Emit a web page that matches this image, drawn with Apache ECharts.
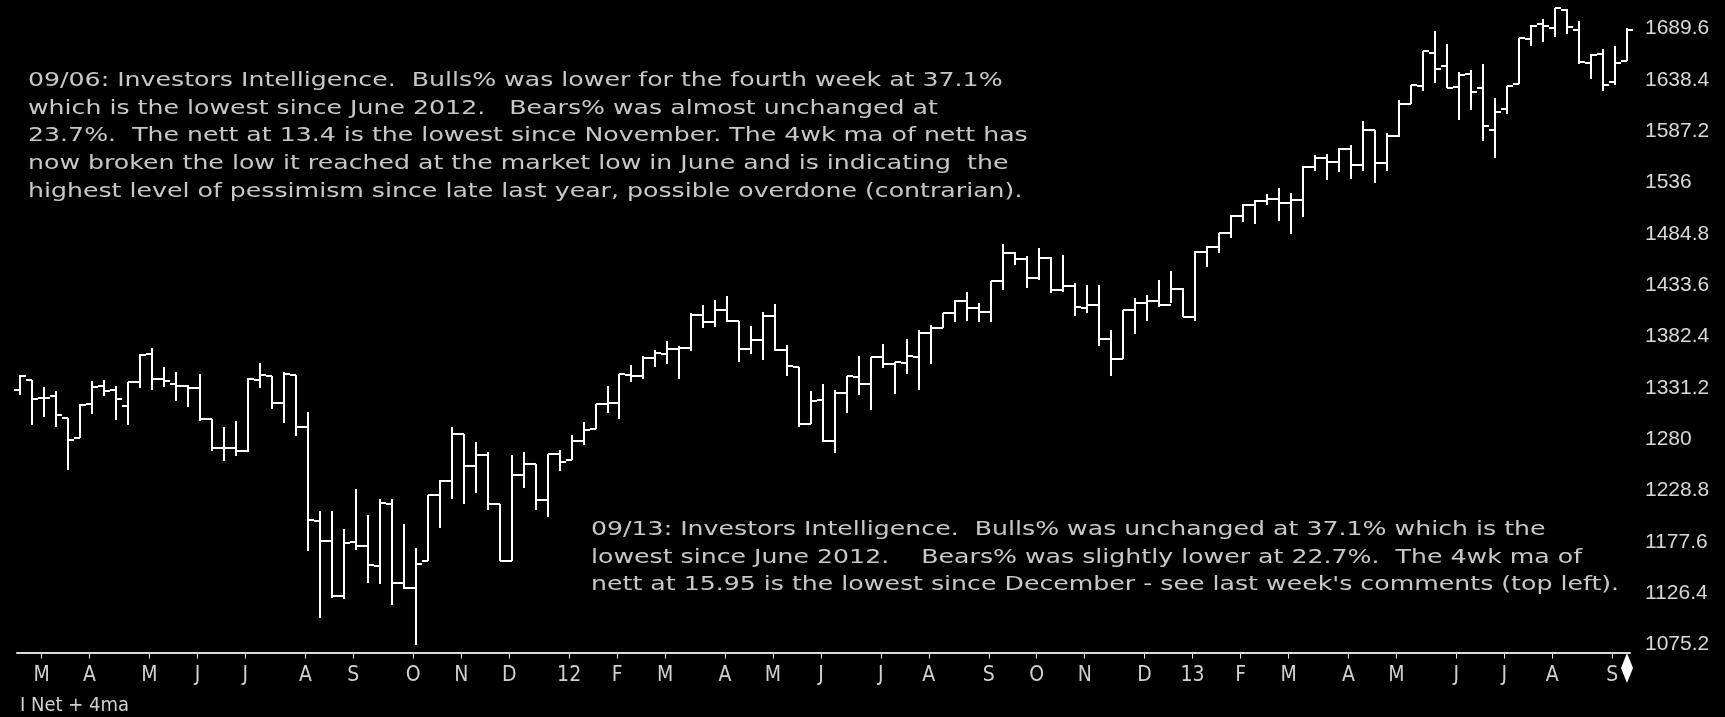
<!DOCTYPE html>
<html>
<head>
<meta charset="utf-8">
<script src="https://cdn.jsdelivr.net/npm/echarts@6/dist/echarts.min.js"></script>
<style>
html,body{margin:0;padding:0;background:#000;}
#c{width:1725px;height:717px;}
</style>
</head>
<body>
<div id="c"></div>
<script>
// Week-ending dates (weekly S&P 500 bars)
const dates = [
'2011-02-18','2011-02-25','2011-03-04','2011-03-11','2011-03-18','2011-03-25','2011-04-01','2011-04-08','2011-04-15','2011-04-21',
'2011-04-29','2011-05-06','2011-05-13','2011-05-20','2011-05-27','2011-06-03','2011-06-10','2011-06-17','2011-06-24','2011-07-01',
'2011-07-08','2011-07-15','2011-07-22','2011-07-29','2011-08-05','2011-08-12','2011-08-19','2011-08-26','2011-09-02','2011-09-09',
'2011-09-16','2011-09-23','2011-09-30','2011-10-07','2011-10-14','2011-10-21','2011-10-28','2011-11-04','2011-11-11','2011-11-18',
'2011-11-25','2011-12-02','2011-12-09','2011-12-16','2011-12-23','2011-12-30','2012-01-06','2012-01-13','2012-01-20','2012-01-27',
'2012-02-03','2012-02-10','2012-02-17','2012-02-24','2012-03-02','2012-03-09','2012-03-16','2012-03-23','2012-03-30','2012-04-06',
'2012-04-13','2012-04-20','2012-04-27','2012-05-04','2012-05-11','2012-05-18','2012-05-25','2012-06-01','2012-06-08','2012-06-15',
'2012-06-22','2012-06-29','2012-07-06','2012-07-13','2012-07-20','2012-07-27','2012-08-03','2012-08-10','2012-08-17','2012-08-24',
'2012-08-31','2012-09-07','2012-09-14','2012-09-21','2012-09-28','2012-10-05','2012-10-12','2012-10-19','2012-10-26','2012-11-02',
'2012-11-09','2012-11-16','2012-11-23','2012-11-30','2012-12-07','2012-12-14','2012-12-21','2012-12-28','2013-01-04','2013-01-11',
'2013-01-18','2013-01-25','2013-02-01','2013-02-08','2013-02-15','2013-02-22','2013-03-01','2013-03-08','2013-03-15','2013-03-22',
'2013-03-28','2013-04-05','2013-04-12','2013-04-19','2013-04-26','2013-05-03','2013-05-10','2013-05-17','2013-05-24','2013-05-31',
'2013-06-07','2013-06-14','2013-06-21','2013-06-28','2013-07-05','2013-07-12','2013-07-19','2013-07-26','2013-08-02','2013-08-09',
'2013-08-16','2013-08-23','2013-08-30','2013-09-06','2013-09-13'
];
const opens = [
1328.7,1338.9,1321.6,1322.7,1301.2,1281.7,1315.5,1333.6,1329.0,1313.4,
1337.1,1365.2,1340.2,1334.8,1333.1,1331.1,1300.3,1271.3,1271.5,1268.4,
1339.6,1343.3,1315.9,1344.3,1292.6,1198.5,1178.9,1123.6,1177.9,1174.0,
1153.5,1215.0,1136.9,1131.2,1158.2,1224.5,1238.7,1285.0,1253.2,1263.9,
1215.6,1158.7,1244.3,1255.1,1219.7,1265.0,1258.9,1277.8,1290.2,1315.3,
1316.2,1344.3,1343.1,1361.2,1365.2,1369.6,1370.8,1404.2,1397.1,1408.5,
1397.5,1370.3,1378.5,1403.3,1368.8,1351.9,1295.7,1318.9,1278.3,1325.7,
1342.4,1334.9,1362.3,1354.7,1356.5,1362.3,1385.9,1391.0,1405.9,1417.9,
1411.1,1406.5,1437.9,1465.4,1459.8,1440.9,1460.9,1428.8,1433.2,1411.0,
1414.0,1379.9,1359.9,1409.2,1416.3,1418.1,1413.5,1430.2,1402.4,1466.5,
1472.1,1486.0,1503.0,1513.2,1517.9,1519.8,1515.6,1518.2,1551.2,1560.7,
1556.9,1569.2,1553.3,1588.8,1555.3,1582.3,1614.4,1632.1,1665.7,1652.6,
1631.7,1644.7,1630.6,1588.8,1609.8,1634.2,1679.6,1694.4,1690.3,1708.0,
1688.4,1655.3,1664.3,1636.0,1656.9
];
const highs = [
1344.1,1338.9,1332.3,1327.7,1301.2,1314.8,1337.9,1339.5,1333.2,1337.5,
1364.6,1370.6,1351.8,1346.8,1334.6,1345.2,1300.3,1292.5,1298.6,1341.0,
1356.5,1343.3,1347.0,1344.3,1307.4,1208.5,1208.5,1190.7,1230.7,1204.4,
1220.4,1220.4,1195.9,1171.4,1224.6,1239.4,1292.7,1285.0,1277.6,1267.0,
1215.6,1264.3,1267.1,1255.1,1265.4,1269.4,1284.6,1296.8,1315.5,1333.5,
1345.3,1354.3,1363.4,1368.9,1378.0,1373.0,1405.9,1414.0,1419.2,1422.4,
1397.5,1392.8,1406.6,1415.3,1373.9,1351.9,1328.5,1334.9,1329.1,1343.3,
1363.5,1362.2,1374.8,1357.3,1380.4,1389.2,1394.2,1406.0,1418.7,1426.7,
1416.2,1437.9,1474.5,1467.1,1463.2,1471.0,1461.5,1464.0,1435.5,1434.3,
1433.4,1388.8,1409.2,1421.1,1423.7,1438.6,1448.0,1430.7,1467.9,1472.3,
1486.0,1503.3,1514.4,1518.3,1524.7,1530.9,1525.3,1552.5,1563.6,1564.9,
1570.3,1573.7,1597.4,1588.8,1585.0,1618.5,1633.7,1667.5,1687.2,1674.2,
1646.0,1648.7,1654.2,1620.1,1632.1,1680.2,1693.1,1698.8,1709.7,1709.2,
1696.8,1664.0,1669.5,1672.4,1690.0
];
const lows = [
1324.6,1294.3,1302.6,1292.0,1249.1,1281.7,1305.3,1322.9,1299.7,1294.7,
1331.5,1329.2,1332.6,1318.5,1311.8,1297.9,1268.2,1258.1,1262.9,1267.7,
1330.9,1309.7,1295.9,1282.9,1168.1,1101.5,1122.1,1121.1,1170.0,1136.2,
1136.1,1114.2,1131.1,1074.8,1158.2,1191.5,1220.0,1215.4,1226.6,1209.4,
1158.7,1158.7,1231.5,1209.5,1202.4,1248.6,1258.9,1274.5,1290.2,1306.1,
1300.5,1337.5,1340.0,1352.3,1354.9,1340.0,1368.0,1391.0,1391.6,1397.0,
1357.4,1365.4,1358.8,1368.0,1343.1,1292.0,1295.7,1277.3,1266.7,1306.6,
1324.4,1309.3,1351.5,1325.4,1345.1,1329.2,1354.7,1391.0,1397.3,1398.0,
1397.0,1396.6,1429.1,1454.2,1430.5,1439.0,1425.5,1427.0,1403.3,1406.0,
1373.0,1343.4,1359.9,1385.4,1398.2,1411.9,1416.0,1401.6,1398.1,1451.6,
1465.7,1481.2,1496.3,1495.0,1513.6,1497.3,1485.0,1501.5,1547.4,1538.6,
1546.2,1539.5,1548.0,1536.0,1548.0,1581.3,1614.0,1627.0,1635.5,1630.7,
1598.2,1608.1,1577.7,1560.3,1604.6,1634.2,1672.0,1676.0,1681.0,1684.0,
1654.0,1639.4,1627.5,1633.4,1656.9
];
const closes = [
1343.0,1319.9,1321.2,1304.3,1279.2,1313.8,1332.4,1328.2,1319.7,1337.4,
1363.6,1340.2,1337.8,1333.3,1331.1,1300.2,1271.0,1271.5,1268.5,1339.7,
1343.8,1316.1,1345.0,1292.3,1199.4,1178.8,1123.5,1176.8,1174.0,1154.2,
1216.0,1136.4,1131.4,1155.5,1224.6,1238.3,1285.1,1253.2,1263.9,1215.7,
1158.7,1244.3,1255.2,1219.7,1265.3,1257.6,1277.8,1289.1,1315.4,1316.3,
1344.9,1342.6,1361.2,1365.7,1369.6,1370.9,1404.2,1397.1,1408.5,1398.1,
1370.3,1378.5,1403.4,1369.1,1353.4,1295.2,1317.8,1278.0,1325.7,1342.8,
1335.0,1362.2,1354.7,1356.8,1362.7,1386.0,1391.0,1405.9,1418.2,1411.1,
1406.6,1437.9,1465.8,1460.2,1440.7,1460.9,1428.6,1433.2,1411.9,1414.2,
1379.9,1359.9,1409.2,1416.2,1418.1,1413.6,1430.2,1402.4,1466.5,1472.1,
1486.0,1503.0,1513.2,1517.9,1519.8,1515.6,1518.2,1551.2,1560.7,1556.9,
1569.2,1553.3,1588.9,1555.3,1582.2,1614.4,1633.7,1667.5,1649.6,1630.7,
1643.4,1626.7,1592.4,1606.3,1631.9,1680.2,1692.1,1691.7,1709.7,1691.4,
1655.8,1663.5,1633.0,1655.2,1688.0
];
// Month ticks: bar index of first week of each month, and its label
const monthTickIdx = [2,6,11,15,19,24,28,33,37,41,46,50,54,59,63,67,72,76,81,85,89,94,98,102,106,111,115,120,124,128,133];
const monthTickLbl = ['M','A','M','J','J','A','S','O','N','D','12','F','M','A','M','J','J','A','S','O','N','D','13','F','M','A','M','J','J','A','S'];
// Price scale
const yMin = 1075.2, yMax = 1718.1, yStep = 51.2;

const noteTop = [
'09/06: Investors Intelligence.  Bulls% was lower for the fourth week at 37.1%',
'which is the lowest since June 2012.   Bears% was almost unchanged at',
'23.7%.  The nett at 13.4 is the lowest since November. The 4wk ma of nett has',
'now broken the low it reached at the market low in June and is indicating  the',
'highest level of pessimism since late last year, possible overdone (contrarian).'
];
const noteBottom = [
'09/13: Investors Intelligence.  Bulls% was unchanged at 37.1% which is the',
'lowest since June 2012.    Bears% was slightly lower at 22.7%.  The 4wk ma of',
'nett at 15.95 is the lowest since December - see last week\'s comments (top left).'
];
const footLabel = 'I Net + 4ma';

const ohlc = dates.map((d, i) => [i, opens[i], highs[i], lows[i], closes[i]]);
const tickVals = monthTickIdx.map(v => v - 0.2);
const lastIdx = dates.length - 1;

const chart = echarts.init(document.getElementById('c'), null, {renderer: 'canvas'});
const barStyle = {stroke: '#ffffff', lineWidth: 2};
const noteFont = "19px 'DejaVu Sans', sans-serif";

chart.setOption({
  backgroundColor: '#000000',
  animation: false,
  grid: {left: 17, right: 95, top: 0, bottom: 72.4, containLabel: false},
  xAxis: {
    type: 'value', min: -0.25, max: 134.28, offset: 8,
    splitLine: {show: false},
    axisLine: {show: true, lineStyle: {color: '#dcdcdc', width: 2}},
    axisTick: {show: true, length: 6, customValues: tickVals, lineStyle: {color: '#dcdcdc', width: 1}},
    axisLabel: {
      show: true, customValues: tickVals, margin: 12,
      color: '#d0d0d0', fontFamily: "'Liberation Sans Narrow', 'DejaVu Sans Condensed', sans-serif", fontSize: 21,
      formatter: v => { const k = monthTickIdx.indexOf(Math.round(v + 0.2)); return k >= 0 ? monthTickLbl[k] : ''; }
    }
  },
  yAxis: {
    type: 'value', position: 'right', min: yMin, max: yMax, interval: yStep,
    splitLine: {show: false}, axisLine: {show: false}, axisTick: {show: false},
    axisLabel: {
      margin: 15, color: '#d8d8d8', fontFamily: "'Liberation Sans Narrow', 'Liberation Sans', sans-serif", fontSize: 21,
      formatter: v => v > 1700 ? '' : String(Math.round(v * 10) / 10)
    }
  },
  series: [{
    type: 'custom',
    data: ohlc,
    encode: {x: 0, y: [1, 2, 3, 4]},
    clip: false,
    renderItem: function (params, api) {
      const i = api.value(0);
      const pH = api.coord([i, api.value(2)]);
      const pL = api.coord([i, api.value(3)]);
      const pO = api.coord([i, api.value(1)]);
      const pC = api.coord([i, api.value(4)]);
      const half = api.size([1, 0])[0] / 2;
      const x = Math.round(pH[0]);
      const yO = Math.round(pO[1]), yC = Math.round(pC[1]);
      const children = [
        {type: 'line', shape: {x1: x, y1: Math.round(pH[1]), x2: x, y2: Math.round(pL[1])}, style: barStyle},
        {type: 'line', shape: {x1: Math.round(x - half), y1: yO, x2: x, y2: yO}, style: barStyle},
        {type: 'line', shape: {x1: x, y1: yC, x2: Math.round(x + half), y2: yC}, style: barStyle}
      ];
      if (i === lastIdx) {
        const cs = params.coordSys;
        const yb = cs.y + cs.height + 8.5;
        children.push({type: 'polygon', shape: {points: [[x, yb], [x + 6, yb + 15], [x, yb + 30], [x - 6, yb + 15]]}, style: {fill: '#ffffff'}});
      }
      return {type: 'group', children: children};
    }
  }],
  graphic: [
    {type: 'text', x: 28, y: 67, scaleX: 1.327, style: {text: noteTop.join('\n'), fill: '#c8c8c8', font: noteFont, lineHeight: 27.8}},
    {type: 'text', x: 591, y: 516, scaleX: 1.327, style: {text: noteBottom.join('\n'), fill: '#c8c8c8', font: noteFont, lineHeight: 27.8}},
    {type: 'text', x: 20, y: 696, style: {text: footLabel, fill: '#d0d0d0', font: "20px 'Liberation Sans Narrow', 'DejaVu Sans Condensed', sans-serif"}}
  ]
});
</script>
</body>
</html>
